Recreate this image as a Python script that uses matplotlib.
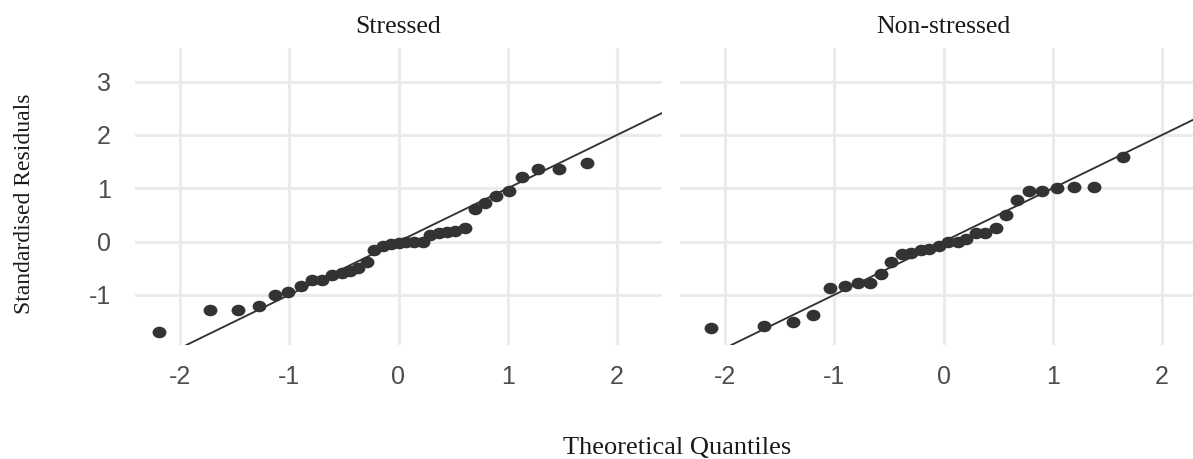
import matplotlib
matplotlib.use("Agg")
import matplotlib.pyplot as plt
from matplotlib.path import Path
from matplotlib.transforms import Affine2D

plt.rcParams["axes.unicode_minus"] = False

# ---- data ----
panels = ["Stressed", "Non-stressed"]

stressed_theoretical = [-2.19, -1.72, -1.47, -1.28, -1.13, -1.01, -0.89, -0.79, -0.70, -0.61,
                        -0.52, -0.44, -0.37, -0.29, -0.22, -0.14, -0.07, 0.00, 0.07, 0.14,
                        0.22, 0.29, 0.37, 0.44, 0.52, 0.61, 0.70, 0.79, 0.89, 1.01,
                        1.13, 1.28, 1.47, 1.72]
stressed_residuals = [-1.69, -1.28, -1.28, -1.20, -1.00, -0.94, -0.84, -0.72, -0.72, -0.63,
                      -0.59, -0.55, -0.50, -0.38, -0.16, -0.09, -0.05, -0.02, 0.00, 0.00,
                      0.00, 0.13, 0.16, 0.17, 0.19, 0.25, 0.61, 0.73, 0.85, 0.94,
                      1.21, 1.36, 1.36, 1.47]

nonstressed_theoretical = [-2.13, -1.64, -1.38, -1.19, -1.04, -0.90, -0.78, -0.67, -0.57, -0.48,
                           -0.38, -0.30, -0.21, -0.13, -0.04, 0.04, 0.13, 0.21, 0.30, 0.38,
                           0.48, 0.57, 0.67, 0.78, 0.90, 1.04, 1.19, 1.38, 1.64]
nonstressed_residuals = [-1.63, -1.58, -1.50, -1.38, -0.88, -0.83, -0.77, -0.77, -0.61, -0.38,
                         -0.23, -0.21, -0.16, -0.14, -0.08, 0.00, 0.00, 0.05, 0.16, 0.16,
                         0.25, 0.50, 0.77, 0.94, 0.95, 1.00, 1.02, 1.03, 1.58]

ref_intercept = 0.0
ref_slope = 1.0

x_ticks = [-2, -1, 0, 1, 2]
y_ticks = [-1, 0, 1, 2, 3]

# ---- figure ----
W, H = 1193, 459
fig = plt.figure(figsize=(W / 100, H / 100), dpi=100)

serif = ["Liberation Serif", "DejaVu Serif"]
sans = ["Liberation Sans", "DejaVu Sans"]

xlim = (-2.41, 2.41)
ylim = (-1.94, 3.63)

ax_bottom = (H - 345) / H
ax_height = (345 - 48) / H
ax_width = 527 / W
lefts = [135 / W, 680 / W]

# slightly wide dot, as in the reference
dot = Affine2D().scale(1.2, 1.0).transform_path(Path.unit_circle())

datasets = [(stressed_theoretical, stressed_residuals),
            (nonstressed_theoretical, nonstressed_residuals)]

for i, (title, (xs, ys)) in enumerate(zip(panels, datasets)):
    ax = fig.add_axes([lefts[i], ax_bottom, ax_width, ax_height])
    ax.set_xlim(*xlim)
    ax.set_ylim(*ylim)
    for s in ax.spines.values():
        s.set_visible(False)
    ax.set_xticks(x_ticks)
    ax.set_yticks(y_ticks)
    ax.grid(True, color="#EBEBEB", linewidth=2.2)
    ax.set_axisbelow(True)
    ax.tick_params(axis="x", length=0, labelsize=18, labelcolor="#4D4D4D", pad=14.5)
    ax.tick_params(axis="y", length=0, labelsize=18, labelcolor="#4D4D4D", pad=17.5)
    for lab in ax.get_xticklabels() + ax.get_yticklabels():
        lab.set_family(sans)
    if i == 1:
        ax.set_yticklabels([])
    ax.scatter(xs, ys, s=100, marker=dot, color="#333333", zorder=3, linewidths=0)
    ax.axline((0, ref_intercept), slope=ref_slope, color="#333333", linewidth=1.35, zorder=2)
    cx = lefts[i] + ax_width / 2 if i == 0 else (680 + 263.5) / W
    fig.text(cx, 1 - 33 / H, title, ha="center", va="baseline",
             family=serif, fontsize=18.5, color="#1A1A1A")

fig.text(677 / W, 1 - 454 / H, "Theoretical Quantiles", ha="center", va="baseline",
         family=serif, fontsize=19, color="#1A1A1A")
fig.text(35 / W, 1 - 203.5 / H, "Standardised Residuals", ha="right", va="center",
         rotation=90, family=serif, fontsize=17, color="#1A1A1A")

fig.savefig("out.png", dpi=100)
